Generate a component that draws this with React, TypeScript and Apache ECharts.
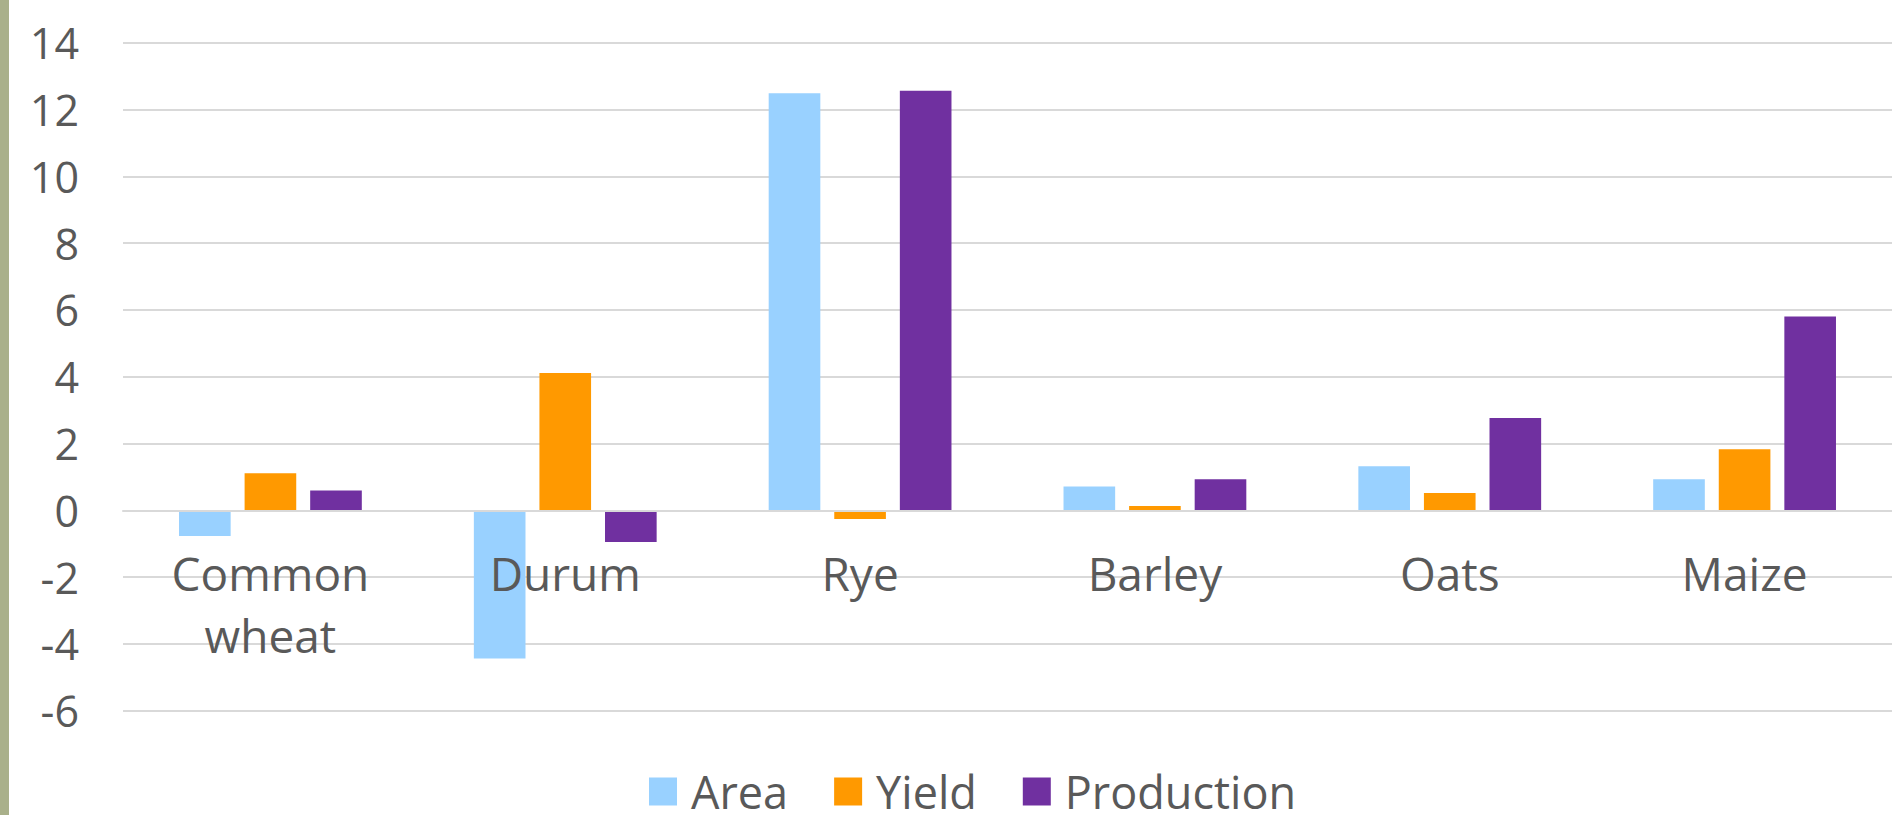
import React, { useEffect, useRef } from "react";
import * as echarts from "echarts";

const categories = ["Common\nwheat", "Durum", "Rye", "Barley", "Oats", "Maize"];
const areaValues = [-0.77, -4.44, 12.49, 0.71, 1.32, 0.93];
const yieldValues = [1.11, 4.11, -0.26, 0.13, 0.52, 1.83];
const productionValues = [0.59, -0.95, 12.56, 0.93, 2.76, 5.8];
const seriesNames = ["Area", "Yield", "Production"];
const seriesColors = ["#99d1ff", "#ff9900", "#7030a0"];

export default function App() {
  const ref = useRef<HTMLDivElement>(null);
  useEffect(() => {
    if (!ref.current) return;
    const chart = echarts.init(ref.current, null, { renderer: "svg" });
    const values = [areaValues, yieldValues, productionValues];
    chart.setOption({
      animation: false,
      backgroundColor: "#ffffff",
      grid: {
        left: 123,
        right: 0,
        top: 42.7,
        bottom: 104.3,
        containLabel: false,
        outerBoundsMode: "none",
      },
      graphic: [
        {
          type: "rect",
          left: 0,
          top: 0,
          shape: { x: 0, y: 0, width: 9, height: 815 },
          style: { fill: "#a9b08a" },
        },
      ],
      legend: {
        data: seriesNames,
        left: 644,
        top: 764,
        itemWidth: 28,
        itemHeight: 28,
        itemGap: 46,
        icon: "rect",
        textStyle: {
          fontFamily: "'Open Sans', sans-serif",
          fontSize: 45,
          color: "#595959",
          lineHeight: 45,
          padding: [0, 0, 0, 9],
        },
      },
      xAxis: {
        type: "category",
        data: categories,
        offset: -200.4,
        z: 5,
        axisLine: { show: true, onZero: false, lineStyle: { color: "#d9d9d9", width: 2 } },
        axisTick: { show: false },
        axisLabel: {
          fontFamily: "'Open Sans', sans-serif",
          fontSize: 46,
          color: "#595959",
          margin: 32,
          lineHeight: 62,
          interval: 0,
        },
      },
      yAxis: {
        type: "value",
        min: -6,
        max: 14,
        interval: 2,
        axisLine: { show: false },
        axisTick: { show: false },
        splitLine: { lineStyle: { color: "#d9d9d9", width: 2 } },
        axisLabel: {
          fontFamily: "'Open Sans', sans-serif",
          fontSize: 43,
          color: "#595959",
          margin: 44,
        },
      },
      series: seriesNames.map((name, i) => ({
        name,
        type: "bar",
        data: values[i],
        barGap: "27%",
        barCategoryGap: "38%",
        itemStyle: { color: seriesColors[i] },
      })),
    });
    return () => chart.dispose();
  }, []);
  return (
    <div
      ref={ref}
      style={{ position: "fixed", left: 0, top: 0, width: 1892, height: 815 }}
    />
  );
}
